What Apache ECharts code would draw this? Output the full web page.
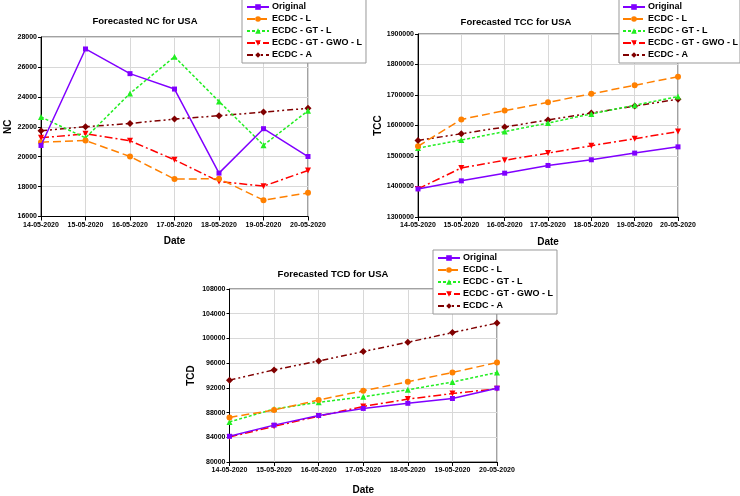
<!DOCTYPE html>
<html>
<head>
<meta charset="utf-8">
<script src="https://cdn.jsdelivr.net/npm/echarts@6/dist/echarts.min.js"></script>
<style>html,body{margin:0;padding:0;background:#fff;}#c{width:740px;height:496px;}</style>
</head>
<body>
<div id="c"></div>
<script>
var dates = ['14-05-2020','15-05-2020','16-05-2020','17-05-2020','18-05-2020','19-05-2020','20-05-2020'];
var seriesNames = ['Original','ECDC - L','ECDC - GT - L','ECDC - GT - GWO - L','ECDC - A'];

var ncOriginal = [20750, 27200, 25550, 24520, 18900, 21870, 20010];
var ncL        = [20970, 21080, 20010, 18500, 18530, 17090, 17580];
var ncGTL      = [22650, 21260, 24230, 26680, 23690, 20770, 23070];
var ncGWO      = [21260, 21530, 21060, 19790, 18340, 18030, 19080];
var ncA        = [21730, 22000, 22220, 22510, 22740, 22980, 23230];

var tccOriginal = [1392000, 1418500, 1443700, 1469000, 1487600, 1509500, 1530000];
var tccL        = [1532000, 1620000, 1648800, 1676000, 1703700, 1732000, 1759600];
var tccGTL      = [1526000, 1552300, 1580000, 1608000, 1638000, 1666400, 1695000];
var tccGWO      = [1392000, 1461000, 1486000, 1509500, 1533700, 1556700, 1580000];
var tccA        = [1551000, 1573000, 1595000, 1618000, 1641000, 1664000, 1686000];

var tcdOriginal = [84160, 85970, 87530, 88670, 89500, 90280, 91950];
var tcdL        = [87220, 88420, 90030, 91530, 92990, 94490, 96100];
var tcdGTL      = [86490, 88570, 89660, 90550, 91690, 92940, 94490];
var tcdGWO      = [84050, 85770, 87430, 88990, 90180, 91070, 91850];
var tcdA        = [93250, 94910, 96360, 97870, 99380, 100940, 102490];

var styles = [
  {color:'#8000ff', type:'solid', symbol:'rect', size:5, rot:0},
  {color:'#ff8000', type:[8,4], symbol:'circle', size:6, rot:0},
  {color:'#22ee22', type:[3,2], symbol:'triangle', size:6, rot:0},
  {color:'#ff0000', type:[8,3,2,3], symbol:'triangle', size:6, rot:180},
  {color:'#800000', type:[6,3,2,3,2,3], symbol:'diamond', size:7, rot:0}
];

var font = 'Liberation Sans, Arial, sans-serif';
var chart = echarts.init(document.getElementById('c'), null, {renderer:'canvas'});

var grids = [
  {left:41, top:37, width:267, height:179.5},
  {left:418, top:34, width:260, height:183},
  {left:229.5, top:289, width:267.5, height:179}
];
var yCfg = [
  {min:16000, max:28000, interval:2000, name:'NC', gap:13},
  {min:1300000, max:1900000, interval:100000, name:'TCC', gap:32},
  {min:80000, max:108000, interval:4000, name:'TCD', gap:33}
];
var titles = [
  {text:'Forecasted NC for USA', x:145, y:21},
  {text:'Forecasted TCC for USA', x:516, y:22},
  {text:'Forecasted TCD for USA', x:333, y:274}
];
var legends = [
  {left:242, top:-1, pad:[3,4,3,4]},
  {left:619, top:-1, pad:[3,2,3,3]},
  {left:433, top:250, pad:[3,4,3,4]}
];
var allData = [
  [ncOriginal, ncL, ncGTL, ncGWO, ncA],
  [tccOriginal, tccL, tccGTL, tccGWO, tccA],
  [tcdOriginal, tcdL, tcdGTL, tcdGWO, tcdA]
];

var option = {
  animation:false,
  backgroundColor:'#fff',
  textStyle:{fontFamily:font},
  title:[], grid:[], xAxis:[], yAxis:[], legend:[], series:[]
};

for (var g=0; g<3; g++) {
  option.title.push({
    text:titles[g].text, left:titles[g].x, top:titles[g].y, textAlign:'center', textVerticalAlign:'middle',
    padding:0,
    textStyle:{fontFamily:font, fontSize:9.5, fontWeight:'bold', color:'#000'}
  });
  option.grid.push({left:grids[g].left, top:grids[g].top, width:grids[g].width, height:grids[g].height,
    show:true, borderColor:'#444', borderWidth:1, containLabel:false});
  option.xAxis.push({
    type:'category', gridIndex:g, data:dates, boundaryGap:false,
    name:'Date', nameLocation:'middle', nameGap: g===2 ? 23 : 20,
    nameTextStyle:{fontFamily:font, fontSize:10, fontWeight:'bold', color:'#000'},
    axisLine:{lineStyle:{color:'#000', width:1}},
    axisTick:{show:true, length:4, lineStyle:{color:'#000'}},
    axisLabel:{fontFamily:font, fontSize:7, fontWeight:'bold', color:'#000', margin:5, interval:0},
    splitLine:{show:true, lineStyle:{color:'#d8d8d8', width:1}}
  });
  option.yAxis.push({
    type:'value', gridIndex:g, min:yCfg[g].min, max:yCfg[g].max, interval:yCfg[g].interval,
    name:yCfg[g].name, nameLocation:'middle', nameGap:yCfg[g].gap, nameRotate:90,
    nameTextStyle:{fontFamily:font, fontSize:10, fontWeight:'bold', color:'#000'},
    axisLine:{show:true, lineStyle:{color:'#000', width:1}},
    axisTick:{show:true, length:3, lineStyle:{color:'#000'}},
    axisLabel:{fontFamily:font, fontSize:7, fontWeight:'bold', color:'#000', margin:4,
      formatter:function(v){return String(v);}},
    splitLine:{show:true, lineStyle:{color:'#d8d8d8', width:1}}
  });
  option.legend.push({
    data:seriesNames, orient:'vertical', left:legends[g].left, top:legends[g].top,
    backgroundColor:'#fff', borderColor:'#999', borderWidth:1, padding:legends[g].pad,
    itemWidth:22, itemHeight:7, itemGap:2,
    textStyle:{fontFamily:font, fontSize:9, fontWeight:'bold', color:'#000', lineHeight:10, padding:[0,0,0,-2]}
  });
  for (var s=0; s<5; s++) {
    var st = styles[s];
    option.series.push({
      name:seriesNames[s], type:'line', xAxisIndex:g, yAxisIndex:g,
      data:allData[g][s],
      symbol:st.symbol, symbolSize:st.size, symbolRotate:st.rot, showSymbol:true,
      lineStyle:{color:st.color, width:1.5, type:st.type},
      itemStyle:{color:st.color, borderWidth:0},
      z: 10 - s
    });
  }
}
chart.setOption(option);
</script>
</body>
</html>
